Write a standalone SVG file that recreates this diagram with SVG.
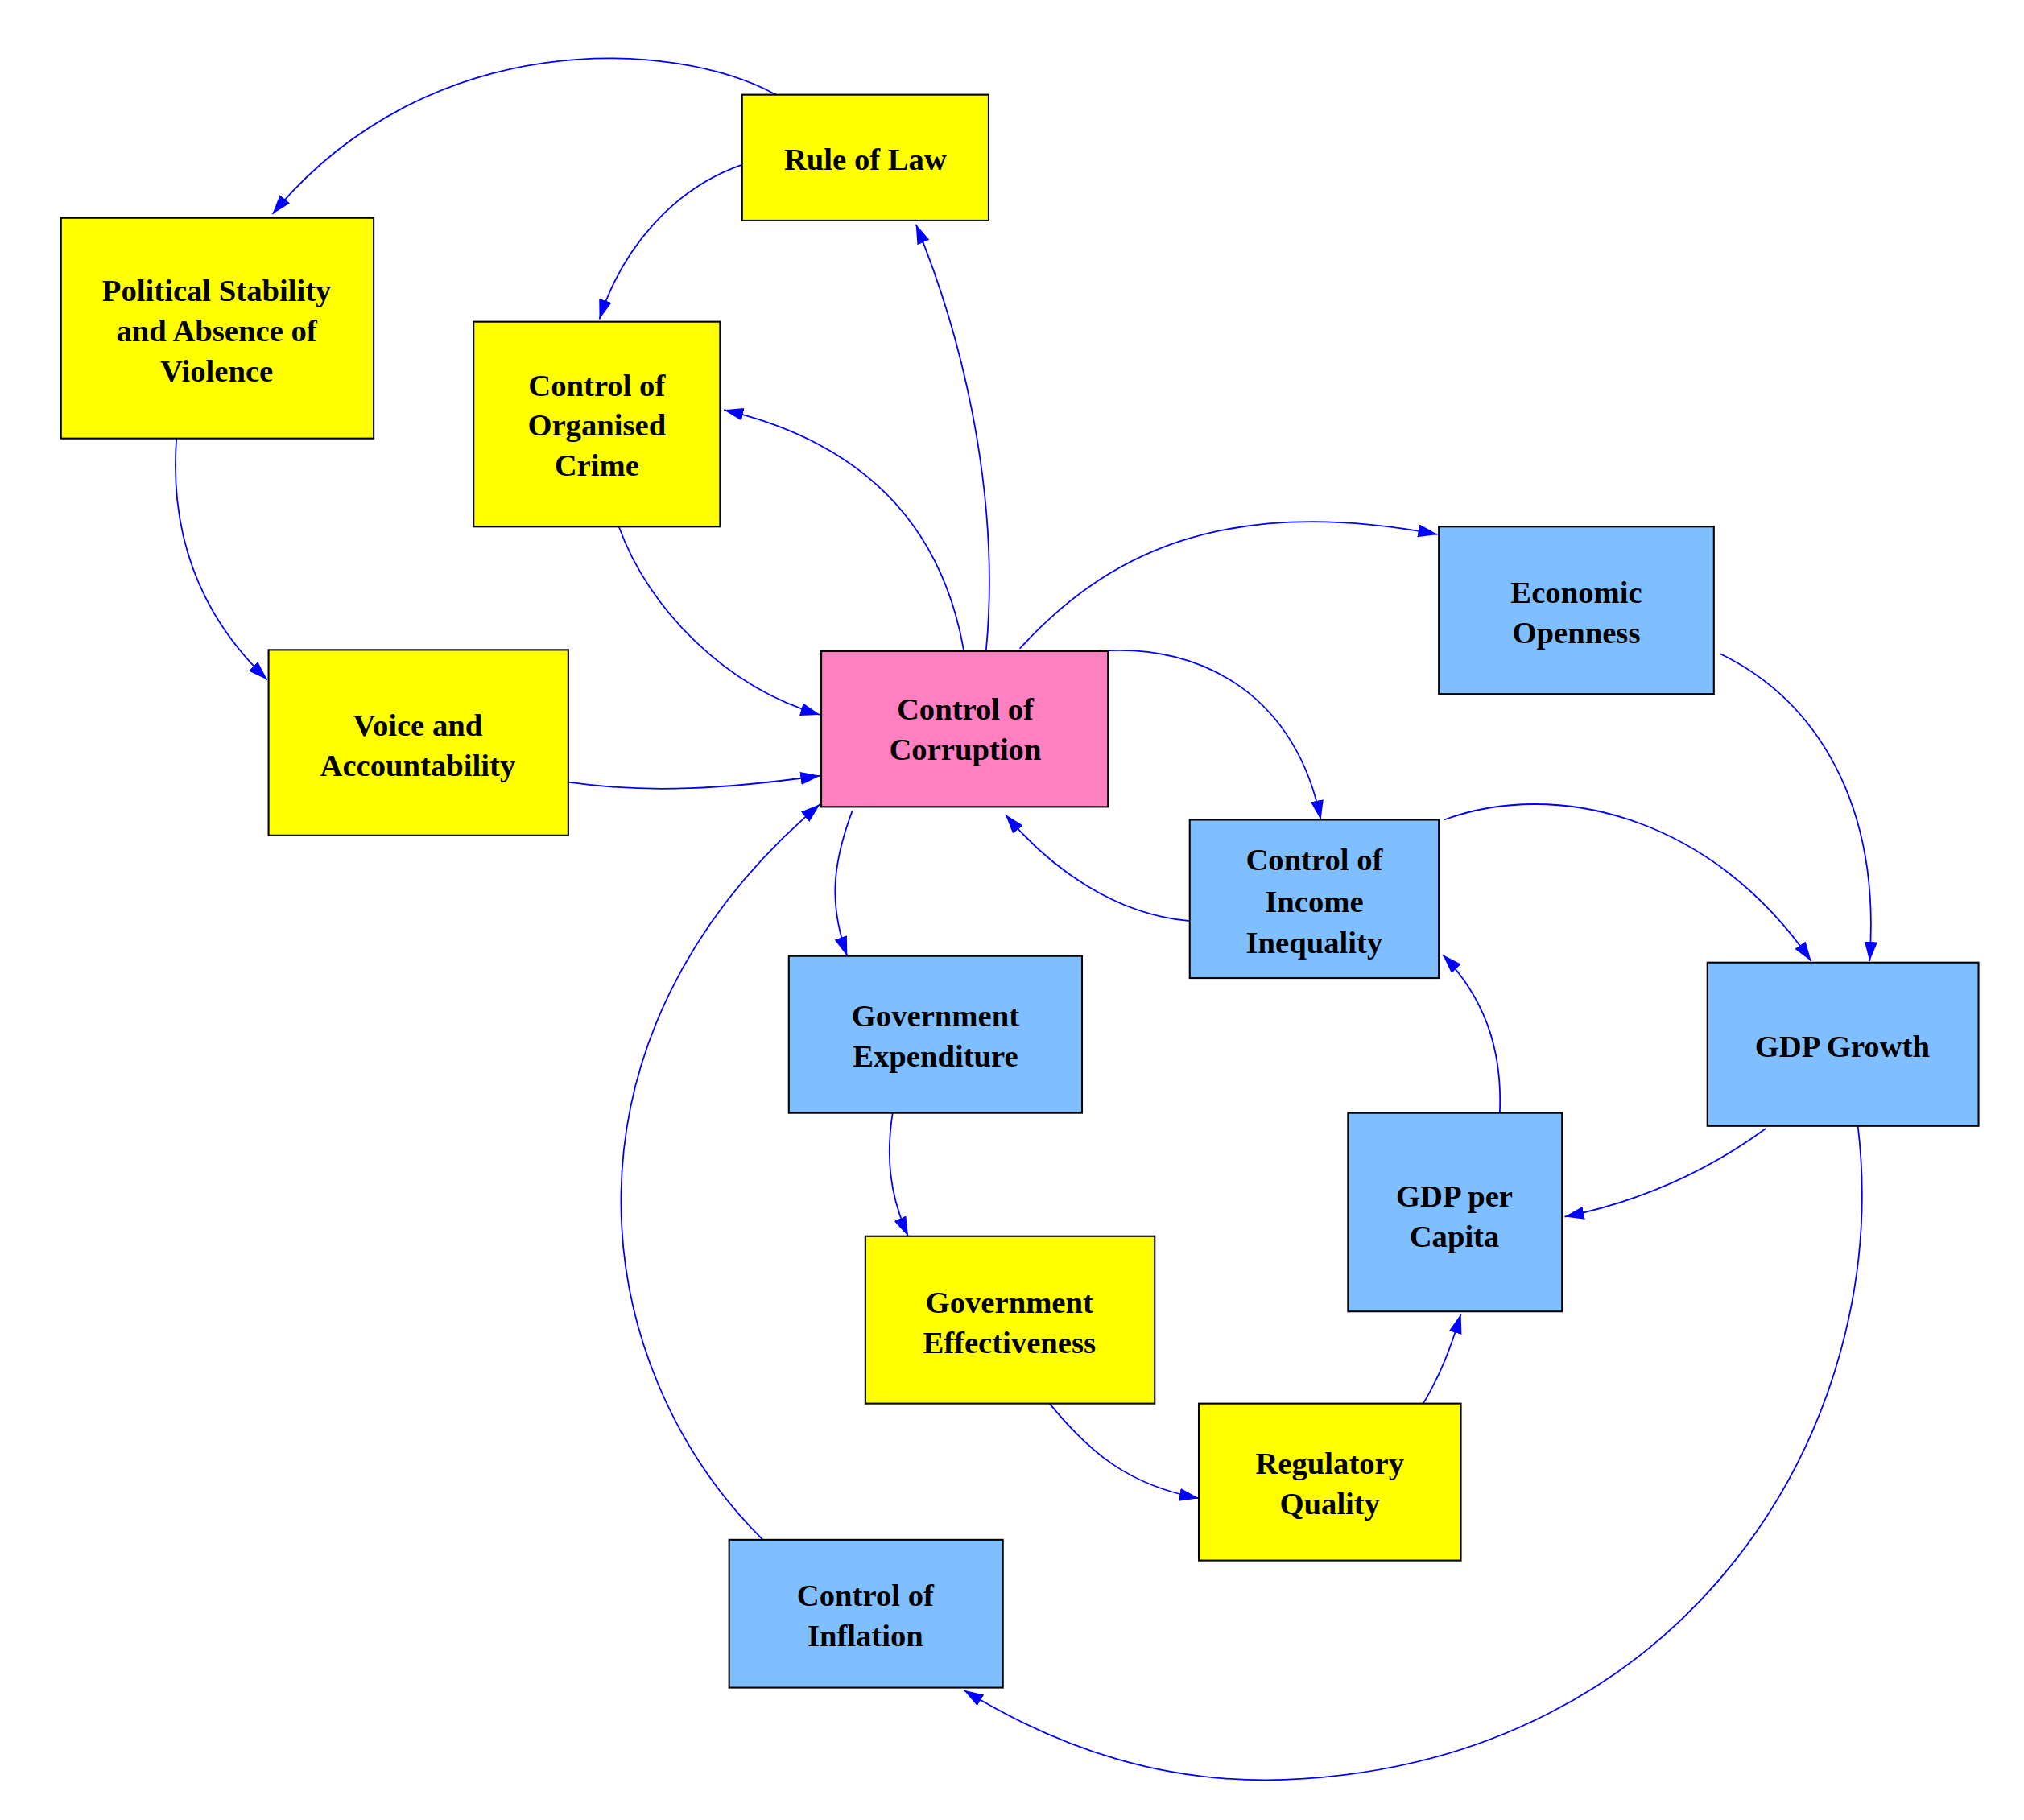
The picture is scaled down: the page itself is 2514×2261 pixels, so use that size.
<svg xmlns="http://www.w3.org/2000/svg" width="2514" height="2261" viewBox="0 0 2514 2261">
<style>
.y{fill:#ffff00;stroke:#000;stroke-width:1.3}
.b{fill:#80bfff;stroke:#000;stroke-width:1.3}
.p{fill:#ff80c0;stroke:#000;stroke-width:1.3}
text{font-family:"Liberation Serif",serif;font-weight:bold;font-size:24px;text-anchor:middle;fill:#000}
.e path{fill:none;stroke:#0000ff;stroke-width:1.1;marker-end:url(#a)}
</style>
<defs><marker id="a" markerUnits="userSpaceOnUse" markerWidth="16" markerHeight="12" refX="15" refY="5" orient="auto"><path d="M0,0 L15,5 L0,10 z" fill="#0000ff"/></marker></defs>
<rect width="2514" height="2261" fill="#fff"/>
<g transform="scale(1.6115)">
<g class="e">
<path d="M598,73 C520,30 330,20 210,165"/>
<path d="M572,127 C520,145 480,190 462,246"/>
<path d="M760,502 C770,400 750,280 706,173"/>
<path d="M743,502 C725,400 660,340 558,316"/>
<path d="M136,338 C130,420 160,480 206,524"/>
<path d="M477,406 C500,470 560,530 632,551"/>
<path d="M438,603 C500,612 560,608 632,598"/>
<path d="M588,1187 C450,1050 420,800 632,620"/>
<path d="M786,500 C850,430 940,380 1108,412"/>
<path d="M846,502 C930,495 1000,540 1018,632"/>
<path d="M917,710 C860,705 810,670 775,628"/>
<path d="M657,625 C640,670 640,700 653,737"/>
<path d="M688,858 C683,890 685,920 700,953"/>
<path d="M809,1082 C840,1120 870,1145 924,1155"/>
<path d="M1097,1082 C1110,1060 1118,1040 1126,1013"/>
<path d="M1156,858 C1158,810 1145,770 1112,736"/>
<path d="M1113,632 C1200,600 1320,630 1396,741"/>
<path d="M1326,504 C1400,540 1450,620 1441,741"/>
<path d="M1361,870 C1320,900 1270,925 1206,938"/>
<path d="M1432,868 C1460,1100 1300,1360 990,1372 C900,1375 820,1350 743,1303"/>
</g>
<g id="rule"><rect class="y" x="572" y="73" width="190" height="97"/><text x="667" y="131">Rule of Law</text></g>
<g id="polstab"><rect class="y" x="47" y="168" width="241" height="170"/><text x="167" y="232">Political Stability</text><text x="167" y="263">and Absence of</text><text x="167" y="294">Violence</text></g>
<g id="crime"><rect class="y" x="365" y="248" width="190" height="158"/><text x="460" y="305">Control of</text><text x="460" y="336">Organised</text><text x="460" y="367">Crime</text></g>
<g id="voice"><rect class="y" x="207" y="501" width="231" height="143"/><text x="322" y="567">Voice and</text><text x="322" y="598">Accountability</text></g>
<g id="corruption"><rect class="p" x="633" y="502" width="221" height="120"/><text x="744" y="555">Control of</text><text x="744" y="586">Corruption</text></g>
<g id="openness"><rect class="b" x="1109" y="406" width="212" height="129"/><text x="1215" y="465">Economic</text><text x="1215" y="496">Openness</text></g>
<g id="inequality"><rect class="b" x="917" y="632" width="192" height="122"/><text x="1013" y="671">Control of</text><text x="1013" y="703">Income</text><text x="1013" y="735">Inequality</text></g>
<g id="growth"><rect class="b" x="1316" y="742" width="209" height="126"/><text x="1420" y="815">GDP Growth</text></g>
<g id="expenditure"><rect class="b" x="608" y="737" width="226" height="121"/><text x="721" y="791">Government</text><text x="721" y="822">Expenditure</text></g>
<g id="percapita"><rect class="b" x="1039" y="858" width="165" height="153"/><text x="1121" y="930">GDP per</text><text x="1121" y="961">Capita</text></g>
<g id="effectiveness"><rect class="y" x="667" y="953" width="223" height="129"/><text x="778" y="1012">Government</text><text x="778" y="1043">Effectiveness</text></g>
<g id="regulatory"><rect class="y" x="924" y="1082" width="202" height="121"/><text x="1025" y="1136">Regulatory</text><text x="1025" y="1167">Quality</text></g>
<g id="inflation"><rect class="b" x="562" y="1187" width="211" height="114"/><text x="667" y="1238">Control of</text><text x="667" y="1269">Inflation</text></g>
</g>
</svg>
